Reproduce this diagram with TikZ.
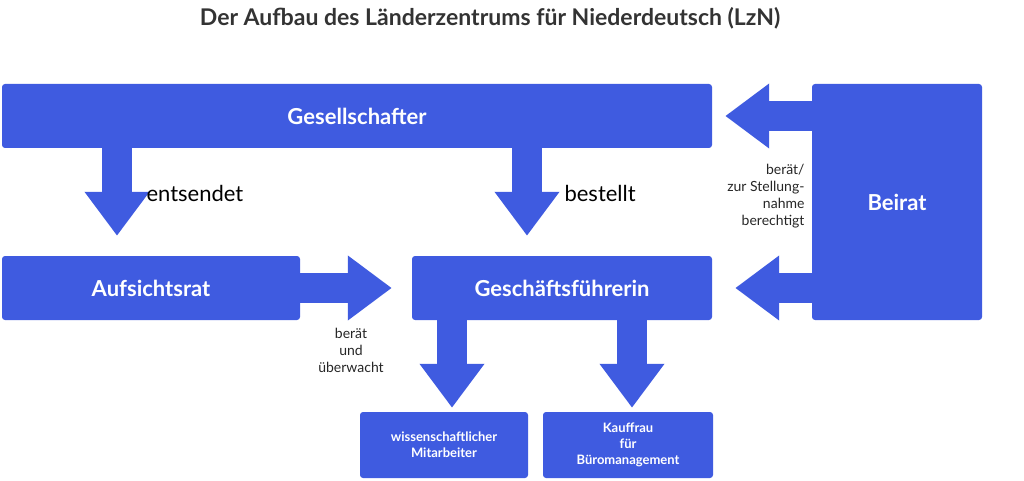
\documentclass[tikz,border=0pt]{standalone}
\usepackage{fontspec}
\setmainfont{Lato}
\usetikzlibrary{arrows.meta}
\definecolor{lzblue}{HTML}{3F5BE0}
\begin{document}
\begin{tikzpicture}[x=1pt,y=-1pt]
\tikzset{box/.style={fill=lzblue, text=white, rounded corners=3pt, font=\bfseries\fontsize{22}{26}\selectfont, inner sep=0pt},
smallbox/.style={box, font=\bfseries\fontsize{13}{16}\selectfont, align=center},
blockarrow/.style={draw=lzblue, line width=30pt, -{Triangle[length=44pt,width=62pt]}},
lab/.style={font=\fontsize{22}{26}\selectfont},
smalllab/.style={font=\fontsize{14}{17}\selectfont, text=black!85}}
\useasboundingbox (0,0) rectangle (1024,481);

\node[font=\fontsize{23}{27}\selectfont\bfseries, text=black!80] (title) at (490,18) {Der Aufbau des Länderzentrums für Niederdeutsch (LzN)};

\node[box, minimum width=710pt, minimum height=64pt] (ges) at (357,116) {Gesellschafter};
\node[box, minimum width=170pt, minimum height=236pt] (bei) at (897,202) {Beirat};
\node[box, minimum width=298pt, minimum height=64pt] (auf) at (151,288) {Aufsichtsrat};
\node[box, minimum width=300pt, minimum height=64pt] (gf) at (562,288) {Geschäftsführerin};
\node[smallbox, minimum width=168pt, minimum height=66pt] (wm) at (444,445) {wissenschaftlicher\\Mitarbeiter};
\node[smallbox, minimum width=170pt, minimum height=66pt] (kf) at (628,445) {Kauffrau\\für\\Büromanagement};

\draw[blockarrow, shorten >=20pt] (ges.south -| 117,0) -- (auf.north -| 117,0);
\draw[blockarrow, shorten >=20pt] (ges.south -| 527,0) -- (gf.north -| 527,0);
\draw[blockarrow, shorten >=20pt] (auf.east) -- (gf.west);
\draw[blockarrow, shorten >=13pt] (bei.west |- 0,116) -- (ges.east |- 0,116);
\draw[blockarrow, shorten >=23pt] (bei.west |- 0,288) -- (gf.east |- 0,288);
\draw[blockarrow, shorten >=4pt] (gf.south -| 452,0) -- (wm.north -| 452,0);
\draw[blockarrow, shorten >=4pt] (gf.south -| 632,0) -- (kf.north -| 632,0);

\node[lab, anchor=west] (ent) at (143,193) {entsendet};
\node[lab, anchor=west] (bes) at (561,193) {bestellt};
\node[smalllab, anchor=east, align=right] (ber) at (808,196) {berät/\\zur Stellung-\\nahme\\berechtigt};
\node[smalllab, align=center] (ueb) at (351,350) {berät\\und\\überwacht};
\end{tikzpicture}
\end{document}
